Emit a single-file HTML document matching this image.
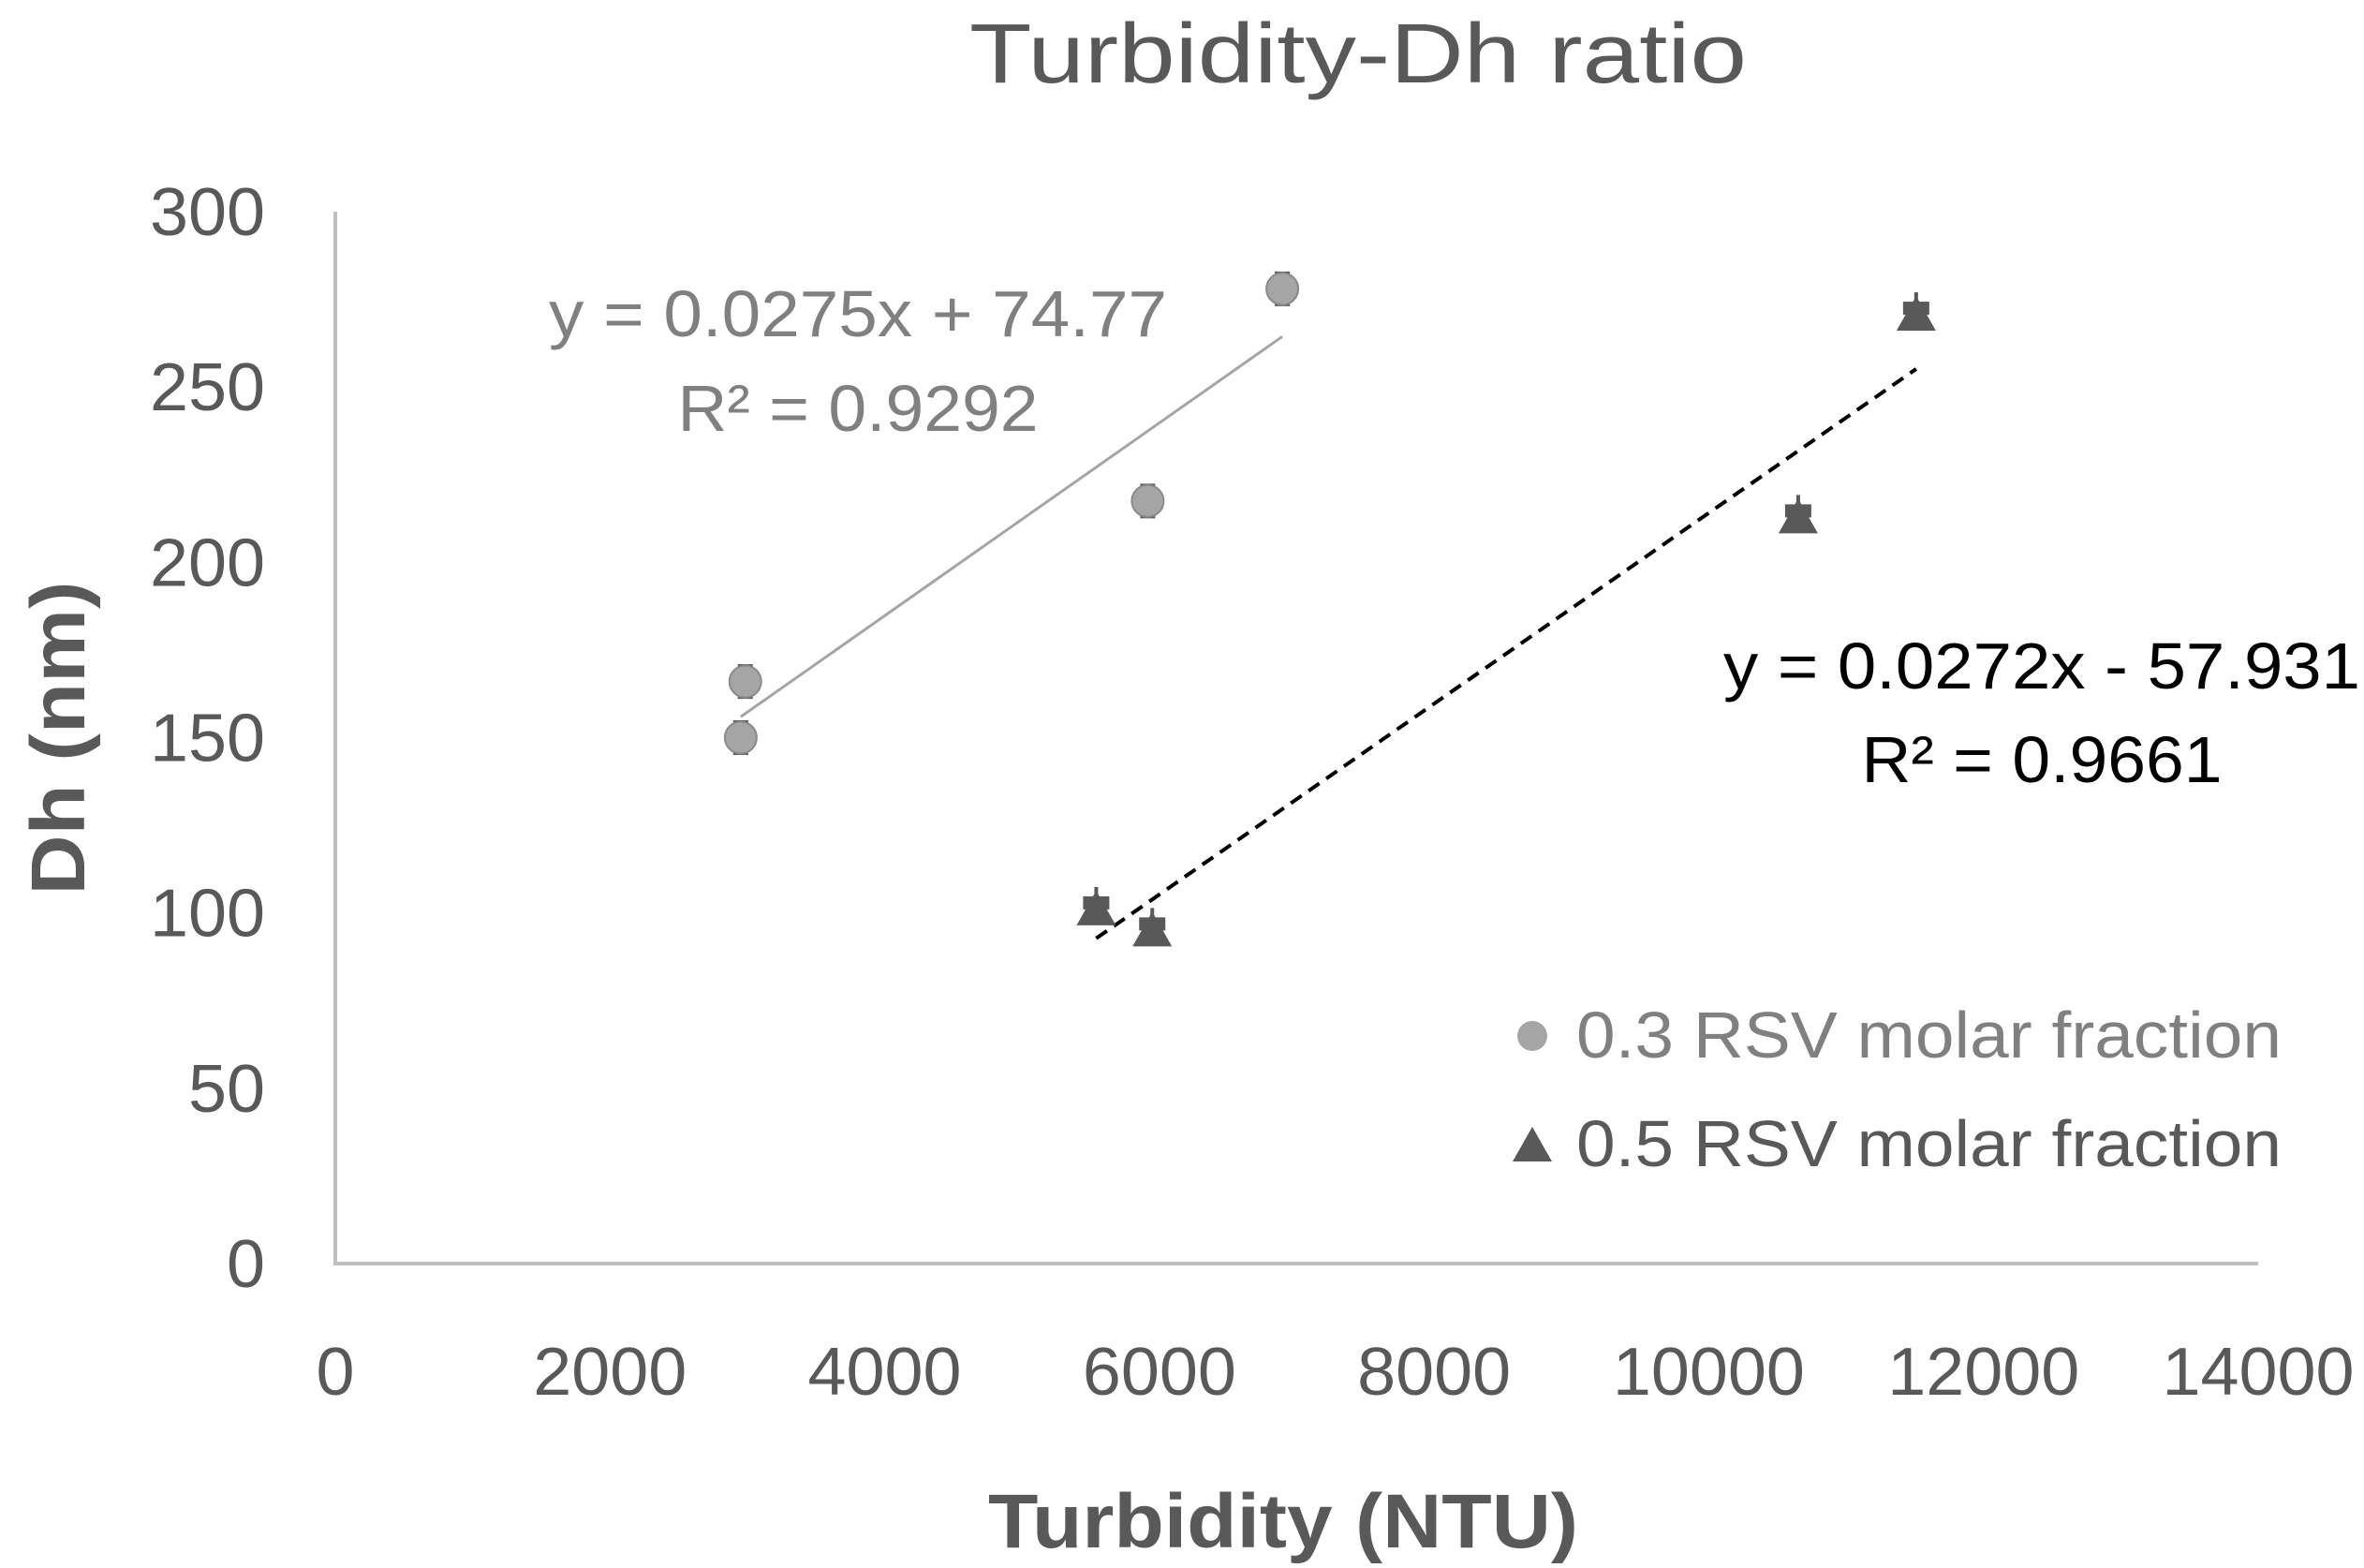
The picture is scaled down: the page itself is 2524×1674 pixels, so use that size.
<!DOCTYPE html>
<html><head><meta charset="utf-8"><style>
html,body{margin:0;padding:0;background:#fff;}
svg{display:block;font-family:"Liberation Sans",sans-serif;}
</style></head><body>
<svg id="chart" width="2524" height="1674" viewBox="0 0 2524 1674" xmlns="http://www.w3.org/2000/svg">
<rect width="2524" height="1674" fill="#fff"/>
<text x="1450" y="88" text-anchor="middle" font-size="90" fill="#595959" textLength="830" lengthAdjust="spacingAndGlyphs">Turbidity-Dh ratio</text>
<g id="axes"></g>
<g id="marks"></g>
<text x="916" y="359" text-anchor="middle" font-size="70" fill="#808080" textLength="660" lengthAdjust="spacingAndGlyphs">y = 0.0275x + 74.77</text>
<text x="916" y="460" text-anchor="middle" font-size="70" fill="#808080" textLength="385" lengthAdjust="spacingAndGlyphs">R² = 0.9292</text>
<text x="2180" y="735" text-anchor="middle" font-size="70" fill="#000" textLength="680" lengthAdjust="spacingAndGlyphs">y = 0.0272x - 57.931</text>
<text x="2180" y="835" text-anchor="middle" font-size="70" fill="#000" textLength="385" lengthAdjust="spacingAndGlyphs">R² = 0.9661</text>
<g>
<circle cx="1636" cy="1106" r="16" fill="#a5a5a5"/>
<text x="1683" y="1129" font-size="70" fill="#808080" textLength="753" lengthAdjust="spacingAndGlyphs">0.3 RSV molar fraction</text>
<polygon points="1615,1240 1657,1240 1636,1203" fill="#595959"/>
<text x="1683" y="1245" font-size="70" fill="#595959" textLength="753" lengthAdjust="spacingAndGlyphs">0.5 RSV molar fraction</text>
</g>
<text x="1370" y="1652" text-anchor="middle" font-size="82" font-weight="bold" fill="#595959" textLength="630" lengthAdjust="spacingAndGlyphs">Turbidity (NTU)</text>
<text transform="translate(90,788) rotate(-90)" text-anchor="middle" font-size="82" font-weight="bold" fill="#595959" textLength="335" lengthAdjust="spacingAndGlyphs">Dh (nm)</text>
</svg>
<script>
const xTicks = [0,2000,4000,6000,8000,10000,12000,14000];
const yTicks = [0,50,100,150,200,250,300];
const s1x = [2952,2985,5915,6895];
const s1y = [150,166,217.5,278];
const s2x = [5540,5948,10651,11510];
const s2y = [101,95,212.8,270.6];
const fit1 = [0.0275,74.77];
const fit2 = [0.0272,-57.931];
const X0=358,X1=2411,Y0=1349,Y1=226;
const xs = v => X0 + v/14000*(X1-X0);
const ys = v => Y0 - v/300*(Y0-Y1);
const NS='http://www.w3.org/2000/svg';
const axes=document.getElementById('axes'), marks=document.getElementById('marks');
function mk(tag,attrs,parent){const e=document.createElementNS(NS,tag);for(const k in attrs)e.setAttribute(k,attrs[k]);parent.appendChild(e);return e;}
let l=mk('line',{x1:X0,y1:Y1,x2:X0,y2:Y0,stroke:'#bfbfbf','stroke-width':4},axes);


l=mk('line',{x1:X0-2,y1:Y0,x2:X1,y2:Y0,stroke:'#bfbfbf','stroke-width':4},axes);


xTicks.forEach(v=>{const s=String(v);const t=mk('text',{x:xs(v),y:1489,'text-anchor':'middle','font-size':72,fill:'#595959',textLength:41*s.length,lengthAdjust:'spacingAndGlyphs'},axes);t.textContent=s;

});
yTicks.forEach(v=>{const s=String(v);const t=mk('text',{x:283,y:ys(v)+25,'text-anchor':'end','font-size':72,fill:'#595959',textLength:41*s.length,lengthAdjust:'spacingAndGlyphs'},axes);t.textContent=s;

});
function fitLine(xsArr,f,attrs,name){const a=Math.min(...xsArr),b=Math.max(...xsArr);
const e=mk('line',Object.assign({x1:xs(a),y1:ys(f[0]*a+f[1]),x2:xs(b),y2:ys(f[0]*b+f[1])},attrs),marks);

}
fitLine(s1x,fit1,{stroke:'#a5a5a5','stroke-width':3},'trendline-03');
fitLine(s2x,fit2,{stroke:'#000','stroke-width':4,'stroke-dasharray':'14 9'},'trendline-05');
s1x.forEach((v,i)=>{const cx=xs(v),cy=ys(s1y[i]);
mk('line',{x1:cx-8,y1:cy-17,x2:cx+8,y2:cy-17,stroke:'#595959','stroke-width':3},marks);
mk('line',{x1:cx-8,y1:cy+17,x2:cx+8,y2:cy+17,stroke:'#595959','stroke-width':3},marks);
const c=mk('circle',{cx:cx,cy:cy,r:17,fill:'#a5a5a5',stroke:'#8a8a8a','stroke-width':2},marks);

});
s2x.forEach((v,i)=>{const cx=xs(v),cy=ys(s2y[i]);
mk('rect',{x:cx-14,y:cy-14,width:28,height:14,fill:'#595959'},marks);
mk('rect',{x:cx-2,y:cy-24,width:4,height:12,fill:'#595959'},marks);
const p=mk('polygon',{points:`${cx-21},${cy+17} ${cx+21},${cy+17} ${cx},${cy-20}`,fill:'#595959'},marks);

});
</script>
</body></html>
